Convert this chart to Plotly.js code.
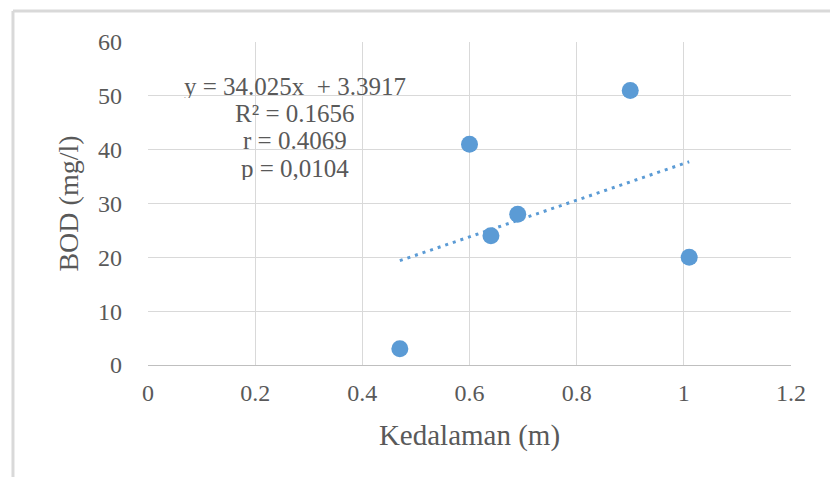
<!DOCTYPE html>
<html>
<head>
<meta charset="utf-8">
<script src="https://cdn.plot.ly/plotly-3.0.1.min.js"></script>
<style>html,body{margin:0;padding:0;background:#fff;}#chart{width:830px;height:477px;}</style>
</head>
<body>
<div id="chart"></div>
<script>
// Data
const depth = [0.47, 0.60, 0.64, 0.69, 0.90, 1.01];   // Kedalaman (m)
const bod   = [3, 41, 24, 28, 51, 20];                 // BOD (mg/l)
const trendX = [0.47, 1.01];                            // linear trendline endpoints
const trendY = [19.38, 37.76];
const statLines = ["y = 34.025x  + 3.3917", "R\u00b2 = 0.1656", "r = 0.4069", "p = 0,0104"];
const xTitle = "Kedalaman (m)";
const yTitle = "BOD (mg/l)";

const blue = "#5b9bd5";
const grey = "#595959";
const fontFam = "'Liberation Serif', 'Times New Roman', serif";

const traces = [
  {x: trendX, y: trendY, type: "scatter", mode: "lines",
   line: {color: blue, width: 3, dash: "3px,5px"}, hoverinfo: "skip", showlegend: false},
  {x: depth, y: bod, type: "scatter", mode: "markers",
   marker: {color: blue, size: 17}, showlegend: false}
];

const statY = [0.864, 0.780, 0.697, 0.610];
const annotations = statLines.map((t, i) => ({
  text: t, xref: "paper", yref: "paper", x: 0.2286, y: statY[i],
  xanchor: "center", yanchor: "middle", showarrow: false,
  height: 24, borderpad: 0,
  font: {family: fontFam, size: 25, color: grey}
}));

const layout = {
  width: 830, height: 477,
  margin: {l: 148, r: 39, t: 42, b: 112, pad: 0},
  paper_bgcolor: "#fff", plot_bgcolor: "#fff",
  font: {family: fontFam, color: grey},
  xaxis: {
    range: [0, 1.2], dtick: 0.2, tick0: 0,
    showgrid: true, gridcolor: "#d9d9d9", gridwidth: 1,
    zeroline: false, showline: true, linecolor: "#bfbfbf", linewidth: 1,
    ticks: "", ticklabelstandoff: 6,
    tickfont: {family: fontFam, size: 24, color: grey},
    title: {text: xTitle, font: {family: fontFam, size: 29, color: grey}, standoff: 19},
    automargin: false, fixedrange: true
  },
  yaxis: {
    range: [0, 60], dtick: 10, tick0: 0,
    showgrid: true, gridcolor: "#d9d9d9", gridwidth: 1,
    zeroline: false, showline: false,
    ticks: "", ticklabelstandoff: 25,
    tickfont: {family: fontFam, size: 24, color: grey},
    title: {text: yTitle, font: {family: fontFam, size: 28, color: grey}, standoff: 11},
    automargin: false, fixedrange: true
  },
  annotations: annotations,
  shapes: [
    {type: "line", xref: "paper", yref: "paper", x0: -0.21, x1: 1.07, y0: 1.096, y1: 1.096,
     line: {color: "#d9d9d9", width: 3}},
    {type: "line", xref: "paper", yref: "paper", x0: -0.21, x1: -0.21, y0: 1.096, y1: -0.36,
     line: {color: "#d9d9d9", width: 3}}
  ],
  showlegend: false
};

Plotly.newPlot("chart", traces, layout, {displayModeBar: false, staticPlot: true});
</script>
</body>
</html>
